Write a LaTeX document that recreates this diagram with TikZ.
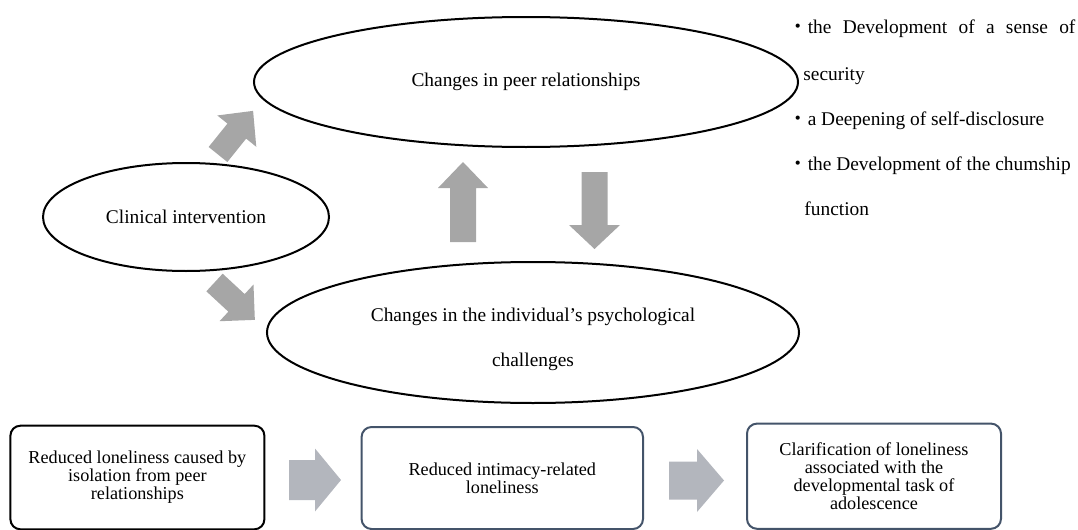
\documentclass[tikz,border=0pt]{standalone}
\usepackage{fontspec}
\setmainfont{Liberation Serif}
\newfontfamily\cjk{Noto Sans CJK JP}
\usetikzlibrary{shapes.geometric}

\definecolor{arrowgray}{HTML}{A6A6A6}
\definecolor{flowgray}{HTML}{B3B6BD}
\definecolor{slateedge}{HTML}{44546A}

% block arrow: #1 fill style, #2 tail centre, #3 angle, #4 length,
% #5 shaft half width, #6 head half width, #7 head length
\newcommand\blockarrow[7]{%
  \begin{scope}[shift={#2},rotate=#3]
    \fill[#1] (0,#5) -- ({#4-#7},#5) -- ({#4-#7},#6) -- (#4,0)
      -- ({#4-#7},-#6) -- ({#4-#7},-#5) -- (0,-#5) -- cycle;
  \end{scope}}

\tikzset{
  oval/.style={ellipse, draw=black, line width=1pt, inner sep=0pt,
    font=\fontsize{9.7pt}{22.5pt}\selectfont, align=center},
  stagebox/.style={rectangle, rounded corners=5pt, line width=1pt,
    inner sep=0pt, align=center,
    font=\fontsize{9.1pt}{9pt}\selectfont},
  note/.style={anchor=base west, inner sep=0pt,
    font=\fontsize{9.7pt}{12pt}\selectfont},
}

\begin{document}
\begin{tikzpicture}[x=0.5pt,y=-0.5pt]
\useasboundingbox (0,0) rectangle (1078,530);

% ellipses
\node[oval, minimum width=272pt, minimum height=65pt] (peer) at (526,82)
  {Changes in peer relationships};
\node[oval, minimum width=143pt, minimum height=54pt] (clin) at (186,217)
  {Clinical intervention};
\node[oval, minimum width=266pt, minimum height=70.5pt] (psych) at (533,332.5) {};
\node[align=center, inner sep=0pt, font=\fontsize{9.7pt}{22.5pt}\selectfont]
  (psychtext) at ([yshift=-3.5pt]psych.center)
  {Changes in the individual\symbol{"27}s psychological\\challenges};

% gray block arrows between the ellipses
\blockarrow{arrowgray}{(218,154.5)}{51.2}{56}{12}{25}{26}
\blockarrow{arrowgray}{(214.5,282.5)}{-42.8}{55}{12}{25}{25}
\blockarrow{arrowgray}{(463,242)}{90}{80}{13}{25}{26}
\blockarrow{arrowgray}{(594.5,172)}{-90}{77}{13}{25.5}{24}

% notes beside the peer ellipse
\node[note] (n1) at (788,33)
  {\makebox[143.5pt][s]{{\cjk ・}the Development of a sense of}};
\node[note] (n1b) at (803,80) {security};
\node[note] (n2) at (788,125) {{\cjk ・}a Deepening of self-disclosure};
\node[note] (n3) at (788,170) {{\cjk ・}the Development of the chumship};
\node[note] (n3b) at (804,215) {function};

% bottom sequence
\node[stagebox, draw=black, minimum width=127pt, minimum height=51.8pt]
  (s1) at (137.4,477.5)
  {Reduced loneliness caused by\\isolation from peer\\relationships};
\node[stagebox, draw=slateedge, minimum width=140.7pt, minimum height=51pt]
  (s2) at (502.3,478)
  {Reduced intimacy-related\\loneliness};
\node[stagebox, draw=slateedge, minimum width=127pt, minimum height=52.6pt]
  (s3) at (874,476.2)
  {Clarification of loneliness\\associated with the\\developmental task of\\adolescence};

\blockarrow{flowgray}{(289,480)}{0}{52}{20}{31.5}{26}
\blockarrow{flowgray}{(669,480.5)}{0}{55}{19}{31.5}{27}
\end{tikzpicture}
\end{document}
